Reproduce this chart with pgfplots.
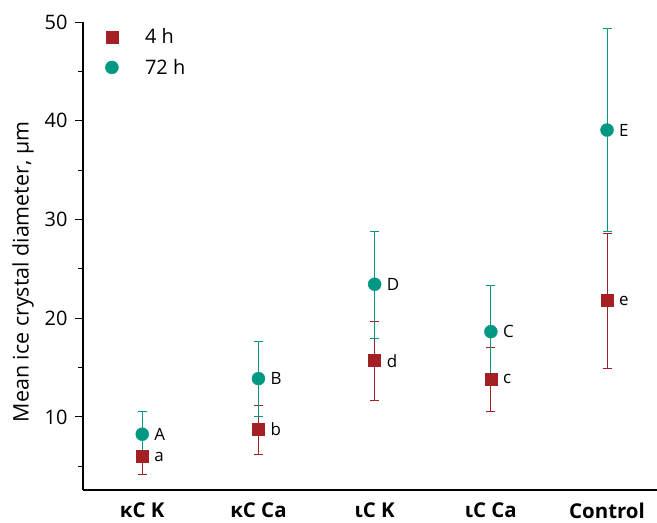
\documentclass[border=0pt]{standalone}
\usepackage{fontspec}
\setmainfont{Open Sans}
\usepackage{pgfplots}
\usepackage{pgfplotstable}
\pgfplotsset{compat=1.18}

\definecolor{brick}{RGB}{165,32,36}
\definecolor{teal72}{RGB}{0,152,131}

% mean, upper error, lower error, letter
\pgfplotstableread{
x y ep em lab
0 5.98 1.86 1.85 a
1 8.75 2.40 2.53 b
2 15.70 4.02 4.01 d
3 13.82 3.24 3.28 c
4 21.78 6.82 6.85 e
}\fourh

\pgfplotstableread{
x y ep em lab
0 8.25 2.29 2.27 A
1 13.88 3.78 3.85 B
2 23.44 5.40 5.47 D
3 18.64 4.66 4.69 C
4 39.06 10.30 10.25 E
}\seventytwoh

\begin{document}
\begin{tikzpicture}
\useasboundingbox (-83bp,-33bp) rectangle (574bp,490bp);
\begin{axis}[
    scale only axis,
    at={(0,0)}, anchor=south west,
    width=574bp, height=468bp,
    xmin=-0.51, xmax=4.43,
    ymin=2.6, ymax=50,
    axis lines*=left,
    axis line style={line width=1.1bp, black},
    xtick={0,1,2,3,4},
    xticklabels={κC K, κC Ca, ιC K, ιC Ca, Control},
    xtick style={draw=none},
    ytick={10,20,30,40,50},
    minor ytick={5,15,25,35,45},
    tick align=outside,
    major tick length=8bp,
    minor tick length=5bp,
    every tick/.style={black, line width=0.9bp},
    /pgf/number format/assume math mode=true,
    yticklabel style={font=\fontsize{20}{24}\selectfont, xshift=-4bp},
    xticklabel style={font=\fontsize{20.5}{24}\selectfont\bfseries,
      anchor=north, inner sep=0pt, text depth=0pt, yshift=-5bp},
    ylabel={Mean ice crystal diameter, μm},
    ylabel style={font=\fontsize{21.5}{25}\selectfont, at={(ticklabel cs:0.466)}},
    ylabel shift=4bp,
    legend style={draw=none, fill=none, at={(axis description cs:0.03,0.995)},
      anchor=north west, font=\fontsize{20}{24}\selectfont, row sep=10bp},
    legend cell align=left,
    legend image code/.code={
      \path[draw=none] (0cm,0cm) -- (1.4cm,0cm);
      \draw[#1] plot coordinates {(0.3cm,0cm)};
    },
    nodes near coords style={anchor=west, inner sep=0pt, xshift=12bp,
      font=\fontsize{17}{20}\selectfont, text=black},
]
\addplot[only marks, mark=square*, mark size=6bp, brick,
    mark options={fill=brick, draw=brick},
    nodes near coords, point meta=explicit symbolic,
    error bars/y dir=both, error bars/y explicit,
    error bars/error bar style={line width=0.8bp, brick},
    error bars/error mark options={rotate=90, mark size=4.5bp, line width=0.8bp, brick}]
    table[x=x, y=y, y error plus=ep, y error minus=em, meta=lab]{\fourh};
\addlegendentry{4 h}
\addplot[only marks, mark=*, mark size=6.5bp, teal72,
    mark options={fill=teal72, draw=teal72},
    nodes near coords, point meta=explicit symbolic,
    error bars/y dir=both, error bars/y explicit,
    error bars/error bar style={line width=0.8bp, teal72},
    error bars/error mark options={rotate=90, mark size=4.5bp, line width=0.8bp, teal72}]
    table[x=x, y=y, y error plus=ep, y error minus=em, meta=lab]{\seventytwoh};
\addlegendentry{72 h}
\end{axis}
\end{tikzpicture}
\end{document}
